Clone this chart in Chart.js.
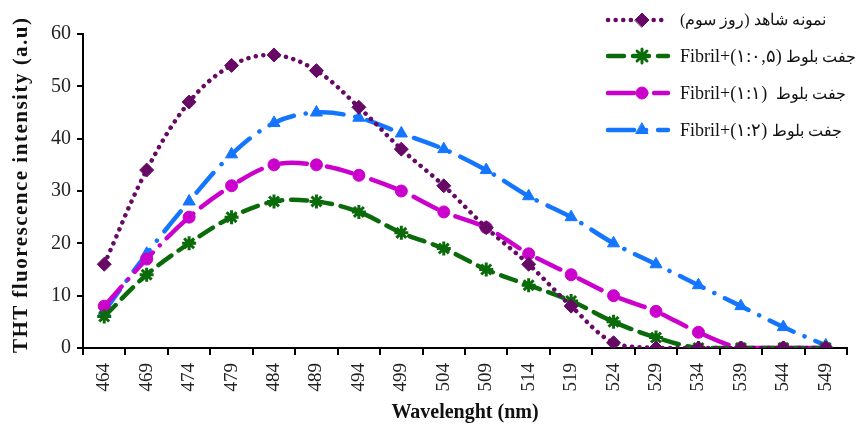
<!DOCTYPE html>
<html>
<head>
<meta charset="utf-8">
<script src="https://cdn.jsdelivr.net/npm/chart.js@4.4.1/dist/chart.umd.min.js"></script>
<style>
  html, body { margin: 0; padding: 0; background: #fff; }
  #wrap { position: relative; width: 861px; height: 429px; }
  #legend { position: absolute; left: 680px; top: 0; font-family: "Liberation Serif", serif; font-size: 18px; color: #111; }
  #legend div { position: absolute; left: 0; white-space: nowrap; direction: ltr; }
  #legend bdi[dir="rtl"] { font-size: 16px; }
  #ytitle { position: absolute; left: 8px; top: 28px; height: 325px; writing-mode: vertical-rl; transform: rotate(180deg);
            font-family: "Liberation Serif", serif; font-weight: bold; font-size: 21px; letter-spacing: 1.5px;
            color: #111; text-align: center; white-space: nowrap; }
</style>
</head>
<body>
<div id="wrap">
  <canvas id="chart" width="861" height="429"></canvas>
  <div id="ytitle">THT fluorescence intensity (a.u)</div>
  <div id="legend">
    <div style="top:9px"><bdi dir="rtl">نمونه شاهد (روز سوم)</bdi></div>
    <div style="top:45px">Fibril+<bdi dir="ltr">(۱:۰,۵)</bdi> <bdi dir="rtl">جفت بلوط</bdi></div>
    <div style="top:82px">Fibril+<bdi dir="ltr">(۱:۱)</bdi>&nbsp; <bdi dir="rtl">جفت بلوط</bdi></div>
    <div style="top:119px">Fibril+<bdi dir="ltr">(۱:۲)</bdi> <bdi dir="rtl">جفت بلوط</bdi></div>
  </div>
</div>
<script>
document.addEventListener('DOMContentLoaded', () => {

    // --- Datos ---
    const wavelengths = ['464', '469', '474', '479', '484', '489', '494', '499', '504',
                         '509', '514', '519', '524', '529', '534', '539', '544', '549'];
    const control   = [16, 34, 47, 54, 56, 53, 46, 38, 31, 23, 16, 8, 1, 0, 0, 0, 0, 0];
    const ratioHalf = [6, 14, 20, 25, 28, 28, 26, 22, 19, 15, 12, 9, 5, 2, 0, 0, 0, 0];
    const ratioOne  = [8, 17, 25, 31, 35, 35, 33, 30, 26, 23, 18, 14, 10, 7, 3, 0, 0, 0];
    const ratioTwo  = [7, 18, 28, 37, 43, 45, 44, 41, 38, 34, 29, 25, 20, 16, 12, 8, 4, 0.5];
    const yTicks = [0, 10, 20, 30, 40, 50, 60];

    const serif = '"Liberation Serif", "Times New Roman", serif';

    const datasets = [
        { label: 'control', data: control, borderColor: '#660a66', backgroundColor: '#660a66',
          borderDash: [0.1, 7.5], borderCapStyle: 'round', borderWidth: 4.5,
          pointStyle: 'rectRot', pointRadius: 7, pointBorderWidth: 1 },
        { label: '1:0.5', data: ratioHalf, borderColor: '#0b6b0b', backgroundColor: '#0b6b0b',
          borderDash: [16, 9], borderCapStyle: 'round', borderWidth: 4.5,
          pointStyle: 'star', pointRadius: 7, pointBorderWidth: 3 },
        { label: '1:1', data: ratioOne, borderColor: '#cc00cc', backgroundColor: '#cc00cc',
          borderDash: [26, 10, 0.1, 10], borderCapStyle: 'round', borderWidth: 4.5,
          pointStyle: 'circle', pointRadius: 6, pointBorderWidth: 1 },
        { label: '1:2', data: ratioTwo, borderColor: '#1476ff', backgroundColor: '#1476ff',
          borderDash: [26, 12, 0.1, 12], borderCapStyle: 'round', borderWidth: 4.5,
          pointStyle: 'triangle', pointRadius: 7, pointBorderWidth: 1 }
    ];

    // Muestras de la leyenda dibujadas con el estilo de cada serie
    const legendSamples = {
        id: 'legendSamples',
        afterDraw(chart) {
            const ctx = chart.ctx;
            const rows = [20, 56, 93, 130];
            chart.data.datasets.forEach((ds, i) => {
                const y = rows[i];
                ctx.save();
                ctx.strokeStyle = ds.borderColor;
                ctx.lineWidth = ds.borderWidth;
                ctx.lineCap = 'round';
                ctx.setLineDash(ds.borderDash);
                ctx.beginPath();
                ctx.moveTo(608, y);
                ctx.lineTo(668, y);
                ctx.stroke();
                ctx.setLineDash([]);
                ctx.fillStyle = ds.backgroundColor;
                ctx.lineWidth = ds.pointBorderWidth;
                Chart.helpers.drawPoint(ctx, { pointStyle: ds.pointStyle, radius: ds.pointRadius, rotation: 0, borderWidth: ds.pointBorderWidth }, 642, y);
                ctx.restore();
            });
        }
    };

    new Chart(document.getElementById('chart').getContext('2d'), {
        type: 'line',
        data: { labels: wavelengths, datasets: datasets },
        options: {
            responsive: false,
            animation: false,
            layout: { padding: { top: 34, right: 14, left: 0, bottom: 0 } },
            plugins: { legend: { display: false }, tooltip: { enabled: false } },
            elements: { line: { tension: 0.35 } },
            scales: {
                x: {
                    offset: true,
                    grid: { drawOnChartArea: false, drawTicks: true, tickLength: 7, color: '#000', lineWidth: 2, offset: true },
                    border: { display: true, color: '#000', width: 2 },
                    ticks: { color: '#222', font: { family: serif, size: 19 }, minRotation: 90, maxRotation: 90, padding: 8 },
                    title: { display: true, text: 'Wavelenght (nm)', color: '#111', font: { family: serif, size: 20, weight: 'bold' }, padding: { top: 0 } },
                    afterFit: (scale) => { scale.height = 81; }
                },
                y: {
                    min: 0, max: 60,
                    afterBuildTicks: (scale) => { scale.ticks = yTicks.map(v => ({ value: v })); },
                    grid: { drawOnChartArea: false, drawTicks: true, tickLength: 6, color: '#000', lineWidth: 2 },
                    border: { display: true, color: '#000', width: 2 },
                    ticks: { color: '#222', font: { family: serif, size: 20 }, padding: 6 },
                    afterFit: (scale) => { scale.width = 83; }
                }
            }
        },
        plugins: [legendSamples]
    });
});
</script>
</body>
</html>
